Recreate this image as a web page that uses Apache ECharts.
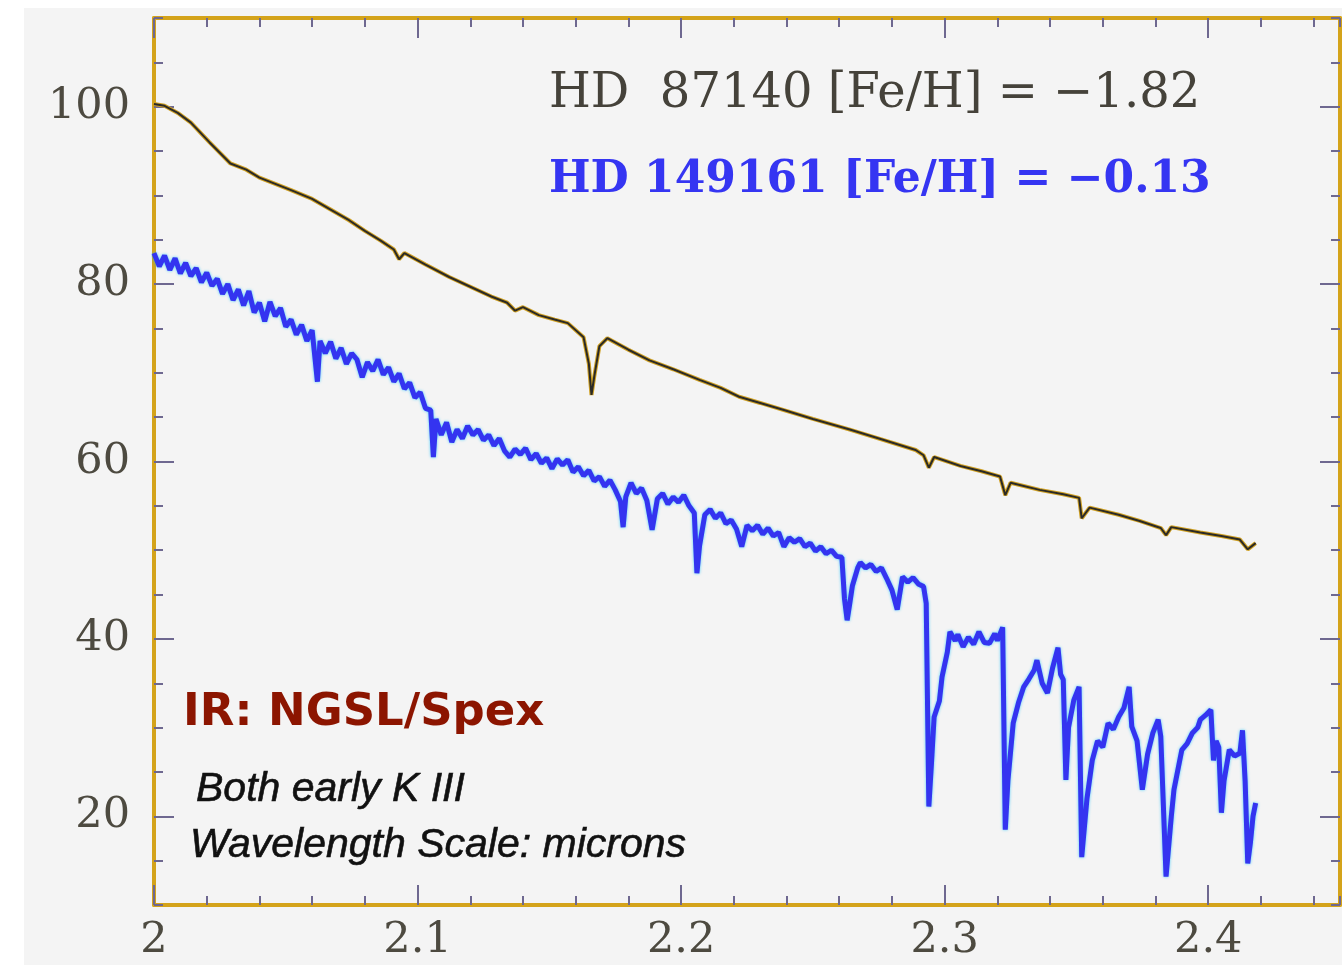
<!DOCTYPE html>
<html>
<head>
<meta charset="utf-8">
<script src="https://cdn.jsdelivr.net/npm/echarts@6/dist/echarts.min.js"></script>
<style>
html,body{margin:0;padding:0;background:#ffffff;}
#chart{width:1342px;height:965px;}
</style>
</head>
<body>
<div id="chart"></div>
<script>
// HD 87140 ([Fe/H] = -1.82) spectrum, wavelength in microns
const wave87140 = [2.000,2.004,2.009,2.014,2.021,2.029,2.035,2.040,2.046,2.052,2.060,2.067,2.074,2.080,2.086,2.091,2.093,2.095,2.103,2.112,2.120,2.128,2.134,2.137,2.140,2.146,2.152,2.157,2.163,2.165,2.166,2.167,2.169,2.172,2.180,2.188,2.197,2.207,2.215,2.222,2.230,2.239,2.250,2.264,2.276,2.289,2.292,2.294,2.296,2.306,2.314,2.321,2.323,2.325,2.336,2.345,2.351,2.352,2.355,2.366,2.374,2.382,2.384,2.386,2.397,2.405,2.412,2.415,2.418];
const flux87140 = [100.3,100.1,99.3,98.2,96.0,93.6,92.9,92.0,91.3,90.6,89.6,88.4,87.2,86.0,84.9,83.9,82.8,83.5,82.2,80.8,79.7,78.6,77.9,77.0,77.4,76.5,76.0,75.6,74.0,71.0,67.5,69.5,73.0,73.9,72.6,71.4,70.4,69.2,68.3,67.3,66.6,65.8,64.8,63.6,62.5,61.3,60.7,59.3,60.5,59.5,58.9,58.3,56.2,57.6,56.8,56.3,55.9,53.6,54.8,54.0,53.3,52.5,51.7,52.6,52.0,51.6,51.2,50.1,50.8];

// HD 149161 ([Fe/H] = -0.13) spectrum
const wave149161 = [2.000,2.002,2.004,2.006,2.008,2.010,2.012,2.014,2.016,2.018,2.020,2.022,2.024,2.026,2.028,2.030,2.032,2.034,2.036,2.038,2.040,2.042,2.044,2.046,2.048,2.050,2.052,2.054,2.056,2.058,2.060,2.062,2.063,2.065,2.067,2.069,2.071,2.073,2.075,2.077,2.079,2.081,2.083,2.085,2.087,2.089,2.091,2.093,2.095,2.097,2.099,2.101,2.103,2.105,2.106,2.107,2.109,2.111,2.113,2.115,2.117,2.119,2.121,2.123,2.125,2.127,2.129,2.131,2.133,2.135,2.137,2.139,2.141,2.143,2.145,2.147,2.149,2.151,2.153,2.155,2.157,2.159,2.161,2.163,2.165,2.167,2.169,2.171,2.173,2.175,2.177,2.178,2.179,2.181,2.183,2.185,2.187,2.189,2.191,2.193,2.195,2.197,2.199,2.201,2.203,2.205,2.206,2.207,2.209,2.211,2.213,2.215,2.217,2.219,2.221,2.223,2.225,2.227,2.229,2.231,2.233,2.235,2.237,2.239,2.241,2.243,2.245,2.247,2.249,2.251,2.253,2.255,2.257,2.259,2.261,2.262,2.263,2.264,2.265,2.267,2.268,2.270,2.272,2.274,2.276,2.278,2.280,2.282,2.284,2.286,2.288,2.290,2.292,2.293,2.294,2.295,2.296,2.298,2.299,2.301,2.302,2.304,2.305,2.307,2.309,2.311,2.313,2.315,2.317,2.319,2.320,2.322,2.323,2.324,2.326,2.328,2.330,2.332,2.334,2.335,2.337,2.339,2.341,2.343,2.344,2.345,2.346,2.347,2.349,2.351,2.352,2.354,2.356,2.358,2.360,2.362,2.364,2.366,2.368,2.370,2.371,2.373,2.375,2.377,2.379,2.381,2.382,2.384,2.386,2.387,2.389,2.390,2.392,2.394,2.396,2.397,2.399,2.401,2.402,2.403,2.404,2.405,2.406,2.408,2.410,2.412,2.413,2.414,2.415,2.416,2.417,2.418];
const flux149161 = [83.5,82.0,83.2,81.6,82.9,81.2,82.4,80.9,81.8,80.2,81.3,79.8,80.6,78.9,80.0,78.2,79.4,77.6,79.2,76.8,77.9,75.8,78.0,76.4,77.3,75.2,76.0,74.3,75.4,73.6,74.8,69.0,73.6,72.2,73.5,71.6,72.8,71.0,72.2,71.5,69.5,71.2,70.2,71.5,69.8,70.6,69.0,69.9,68.2,68.9,67.2,67.8,66.0,65.8,60.5,64.8,63.0,64.4,62.2,63.6,62.6,64.0,63.0,63.6,62.4,63.0,61.8,62.6,61.2,60.5,61.4,60.8,61.5,60.2,60.9,59.8,60.4,59.2,60.3,59.6,60.2,58.8,59.4,58.4,59.0,57.8,58.3,57.2,57.9,56.8,55.5,52.6,56.0,57.6,56.4,57.0,55.6,52.3,55.8,56.4,55.2,56.0,55.4,56.2,55.0,54.2,47.4,50.5,54.0,54.6,53.6,54.2,53.0,53.4,52.4,50.4,52.8,52.2,52.8,51.8,52.5,51.6,52.0,50.4,51.4,50.9,51.3,50.4,50.8,49.9,50.4,49.6,50.0,49.3,49.2,44.5,42.1,44.0,46.0,48.0,48.6,48.0,48.4,47.6,48.0,46.8,45.5,43.3,47.0,46.4,46.9,46.2,45.9,44.0,21.1,26.0,31.2,33.0,35.7,38.5,40.8,39.8,40.5,39.1,40.2,39.4,40.8,39.6,39.5,40.6,39.8,41.3,18.5,24.0,30.5,32.8,34.6,35.5,36.5,37.6,35.0,33.9,36.8,39.0,36.0,35.4,24.1,30.0,33.1,34.6,15.4,22.0,26.3,28.5,27.8,30.5,29.8,31.2,32.2,34.6,30.1,28.5,23.0,27.0,29.4,30.9,29.0,13.2,20.0,23.0,26.0,27.5,28.2,29.4,30.0,30.9,31.4,32.0,26.3,28.5,27.8,20.4,24.0,27.5,26.8,27.1,29.7,24.0,14.7,17.0,20.0,21.5];

// Axis ticks
const xMajorTicks = [2, 2.1, 2.2, 2.3, 2.4];
const yMajorTicks = [20, 40, 60, 80, 100];

// Annotation texts
const label87140 = 'HD  87140 [Fe/H] = \u22121.82';
const label149161 = 'HD 149161 [Fe/H] = \u22120.13';
const titleText = 'IR: NGSL/Spex';
const noteLines = ['Both early K III', 'Wavelength Scale: microns'];

const zip = (xs, ys) => xs.map((x, i) => [x, ys[i]]);

const gold = '#d4a31a';
const tickCol = '#6e6890';
const labelFont = {fontFamily: 'DejaVu Serif', fontSize: 43, color: '#4d4a40'};
const X0 = 2, X1 = 2.45, Y0 = 10, Y1 = 110;

function minorAxis(pos, interval, min, max) {
  return {
    type: 'value', position: pos, min: min, max: max, interval: interval,
    axisLine: {show: true, lineStyle: {color: gold, width: 4}},
    axisTick: {show: true, inside: true, length: 9, lineStyle: {color: tickCol, width: 2}},
    axisLabel: {show: false}, splitLine: {show: false}
  };
}
function majorAxis(pos, ticks, min, max, withLabels, margin) {
  return {
    type: 'value', position: pos, min: min, max: max,
    axisLine: {show: false},
    axisTick: {show: true, inside: true, length: 20, customValues: ticks, lineStyle: {color: tickCol, width: 2}},
    axisLabel: Object.assign({show: withLabels, customValues: ticks, margin: margin,
      formatter: v => String(Math.round(v * 10) / 10)}, labelFont),
    splitLine: {show: false}
  };
}

const chart = echarts.init(document.getElementById('chart'), null, {renderer: 'canvas'});
chart.setOption({
  animation: false,
  backgroundColor: '#ffffff',
  grid: {left: 154, top: 18, right: 2, bottom: 60, show: true, borderColor: '#8a8a8a', borderWidth: 1, containLabel: false},
  xAxis: [
    minorAxis('bottom', 0.02, X0, X1),
    majorAxis('bottom', xMajorTicks, X0, X1, true, 14),
    minorAxis('top', 0.02, X0, X1),
    majorAxis('top', xMajorTicks, X0, X1, false, 8)
  ],
  yAxis: [
    minorAxis('left', 5, Y0, Y1),
    majorAxis('left', yMajorTicks, Y0, Y1, true, 24),
    minorAxis('right', 5, Y0, Y1),
    majorAxis('right', yMajorTicks, Y0, Y1, false, 8)
  ],
  graphic: [
    {type: 'rect', left: 24, top: 8, z: -10, silent: true, shape: {width: 1318, height: 957}, style: {fill: '#f4f4f4'}},
    {type: 'text', x: 549, y: 95, z: 10, style: {text: label87140, font: '48px "DejaVu Serif"', fill: '#45423a', verticalAlign: 'middle'}},
    {type: 'text', x: 549, y: 181, z: 10, style: {text: label149161, font: 'bold 44px "DejaVu Serif"', fill: '#3535f2', verticalAlign: 'middle'}},
    {type: 'text', x: 183, y: 713, z: 10, style: {text: titleText, font: 'bold 45px "DejaVu Sans"', fill: '#8c1500', verticalAlign: 'middle'}},
    {type: 'text', x: 196, y: 790, z: 10, style: {text: noteLines[0], font: 'italic 41px "Liberation Sans"', fill: '#111111', stroke: '#111111', lineWidth: 0.6, verticalAlign: 'middle'}},
    {type: 'text', x: 190, y: 846, z: 10, style: {text: noteLines[1], font: 'italic 41px "Liberation Sans"', fill: '#111111', stroke: '#111111', lineWidth: 0.6, verticalAlign: 'middle'}}
  ],
  series: [
    {type: 'line', xAxisIndex: 0, yAxisIndex: 0, data: zip(wave87140, flux87140), showSymbol: false, clip: true,
     lineStyle: {color: '#cfa023', width: 4}, z: 2},
    {type: 'line', xAxisIndex: 0, yAxisIndex: 0, data: zip(wave87140, flux87140), showSymbol: false, clip: true,
     lineStyle: {color: '#2b2a26', width: 2}, z: 3},
    {type: 'line', xAxisIndex: 0, yAxisIndex: 0, data: zip(wave149161, flux149161), showSymbol: false, clip: true,
     lineStyle: {color: '#3434f0', width: 5, shadowColor: 'rgba(0,190,255,0.7)', shadowBlur: 3}, z: 4}
  ]
});
</script>
</body>
</html>
